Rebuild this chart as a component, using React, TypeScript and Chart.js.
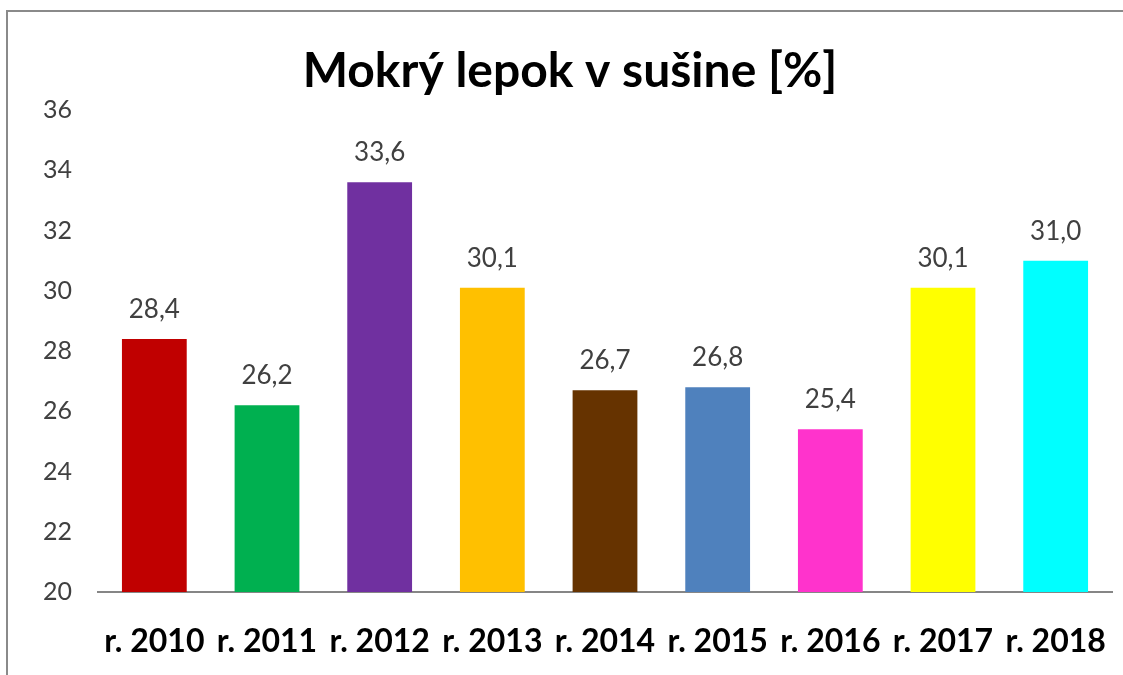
import React, { useEffect, useRef } from "react";
import { Chart, registerables } from "chart.js";

Chart.register(...registerables);

const TITLE = "Mokrý lepok v sušine [%]";
const categories = ["r. 2010", "r. 2011", "r. 2012", "r. 2013", "r. 2014", "r. 2015", "r. 2016", "r. 2017", "r. 2018"];
const values = [28.4, 26.2, 33.6, 30.1, 26.7, 26.8, 25.4, 30.1, 31.0];
const barColors = ["#C00000", "#00B050", "#7030A0", "#FFC000", "#663300", "#4F81BD", "#FF33CC", "#FFFF00", "#00FFFF"];
const yMin = 20;
const yMax = 36;
const yStep = 2;

const W = 1123;
const H = 675;
const FONT = "Lato, 'Open Sans', sans-serif";

const framePlugin = {
  id: "frame",
  beforeDraw(chart: any) {
    const ctx = chart.ctx;
    ctx.save();
    ctx.fillStyle = "#ffffff";
    ctx.fillRect(0, 0, chart.width, chart.height);
    ctx.strokeStyle = "#8a8a8a";
    ctx.lineWidth = 2;
    ctx.beginPath();
    ctx.moveTo(7, chart.height + 5);
    ctx.lineTo(7, 11);
    ctx.lineTo(chart.width + 5, 11);
    ctx.stroke();
    ctx.restore();
  },
};

const titlePlugin = {
  id: "customTitle",
  afterDraw(chart: any) {
    const ctx = chart.ctx;
    ctx.save();
    ctx.font = `bold 48px ${FONT}`;
    ctx.fillStyle = "#000000";
    ctx.textAlign = "center";
    ctx.textBaseline = "alphabetic";
    ctx.fillText(TITLE, 570, 87);
    ctx.restore();
  },
};

const valueLabelPlugin = {
  id: "valueLabels",
  afterDatasetsDraw(chart: any) {
    const ctx = chart.ctx;
    const meta = chart.getDatasetMeta(0);
    ctx.save();
    ctx.font = `26px ${FONT}`;
    ctx.fillStyle = "#404040";
    ctx.textAlign = "center";
    ctx.textBaseline = "alphabetic";
    meta.data.forEach((bar: any, i: number) => {
      const v = chart.data.datasets[0].data[i] as number;
      ctx.fillText(v.toFixed(1).replace(".", ","), bar.x, bar.y - 21);
    });
    ctx.restore();
  },
};

export default function App() {
  const ref = useRef<HTMLCanvasElement | null>(null);

  useEffect(() => {
    if (!ref.current) return;
    const chart = new Chart(ref.current, {
      type: "bar",
      data: {
        labels: categories,
        datasets: [
          {
            data: values,
            backgroundColor: barColors,
            borderWidth: 0,
            categoryPercentage: 1,
            barPercentage: 0.575,
          },
        ],
      },
      options: {
        animation: false,
        responsive: false,
        maintainAspectRatio: false,
        devicePixelRatio: 1,
        layout: { padding: { top: 110, right: 11, bottom: 0, left: 0 } },
        plugins: {
          legend: { display: false },
          title: { display: false },
          tooltip: { enabled: false },
        },
        scales: {
          x: {
            grid: { display: false, drawTicks: false },
            border: { display: true, color: "#868686", width: 2 },
            ticks: {
              color: "#000000",
              font: { family: FONT, size: 32, weight: "bold" },
              padding: 30,
              maxRotation: 0,
              autoSkip: false,
            },
            afterFit(scale: any) {
              scale.height = 83;
              scale.paddingLeft = 0;
              scale.paddingRight = 0;
            },
          },
          y: {
            min: yMin,
            max: yMax,
            grid: { display: false, drawTicks: false },
            border: { display: false },
            ticks: {
              stepSize: yStep,
              color: "#404040",
              font: { family: FONT, size: 25 },
              padding: 26,
            },
            afterFit(scale: any) {
              scale.width = 98;
              scale.paddingTop = 0;
              scale.paddingBottom = 0;
            },
          },
        },
      },
      plugins: [framePlugin, titlePlugin, valueLabelPlugin],
    });
    return () => chart.destroy();
  }, []);

  return (
    <div style={{ position: "fixed", left: 0, top: 0, width: W, height: H, background: "#fff" }}>
      <canvas ref={ref} width={W} height={H} style={{ display: "block", width: W, height: H }} />
    </div>
  );
}
